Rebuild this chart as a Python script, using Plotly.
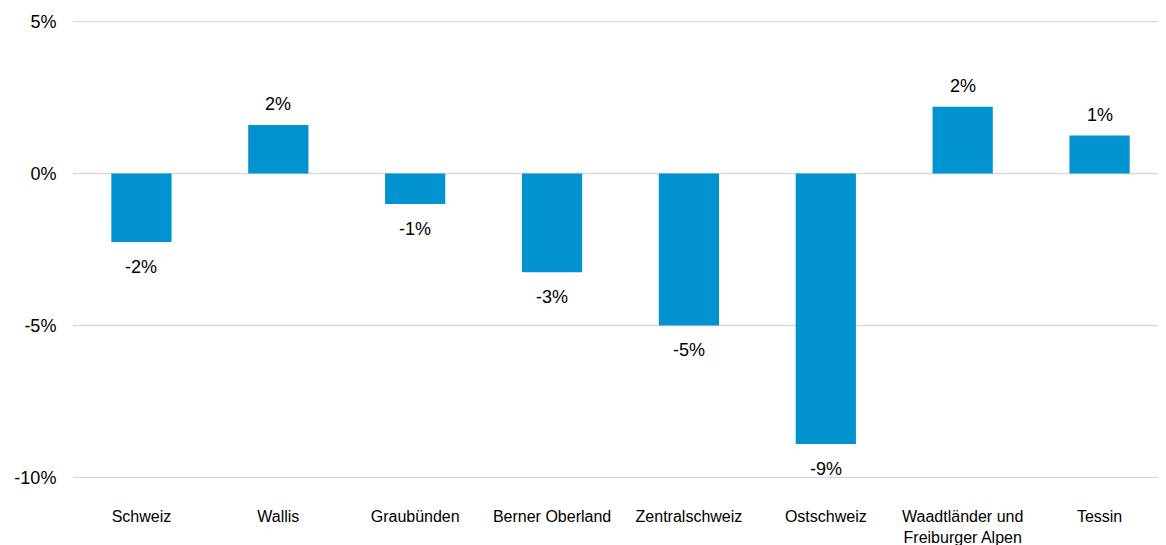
import plotly.graph_objects as go

categories = ["Schweiz", "Wallis", "Graubünden", "Berner Oberland", "Zentralschweiz",
              "Ostschweiz", "Waadtländer und<br>Freiburger Alpen", "Tessin"]
values = [-2.25, 1.6, -1.0, -3.25, -5.0, -8.9, 2.2, 1.25]
labels = ["-2%", "2%", "-1%", "-3%", "-5%", "-9%", "2%", "1%"]
y_ticks = [-10, -5, 0, 5]
y_tick_text = ["-10%", "-5%", "0%", "5%"]

FONT = "Liberation Sans, Arial, sans-serif"
BAR = "#0093D0"

fig = go.Figure(go.Bar(x=categories, y=values, marker=dict(color=BAR, line=dict(width=0)),
                       width=0.44, hoverinfo="skip"))

for c, v, t in zip(categories, values, labels):
    fig.add_annotation(x=c, y=v, text=t, showarrow=False, yanchor="middle",
                       yshift=21 if v >= 0 else -25,
                       font=dict(family=FONT, size=18, color="#000000"))

for yv in y_ticks:
    fig.add_shape(type="line", xref="paper", yref="y", x0=0, x1=1, y0=yv, y1=yv,
                  line=dict(color="#d9d9d9", width=1.5), layer="below")

fig.update_layout(
    width=1160, height=537,
    margin=dict(l=65, r=0, t=13, b=67),
    plot_bgcolor="white", paper_bgcolor="white",
    showlegend=False,
    font=dict(family=FONT, color="#000000"),
    xaxis=dict(showgrid=False, showline=False, zeroline=False, automargin=False,
               ticks="outside", ticklen=24, tickcolor="rgba(0,0,0,0)",
               tickfont=dict(size=16, family=FONT, color="#000000")),
    yaxis=dict(range=[-10.02, 5.02], tickvals=y_ticks, ticktext=y_tick_text, automargin=False,
               showgrid=False, zeroline=False,
               showline=False, ticks="outside", ticklen=12, tickcolor="rgba(0,0,0,0)",
               tickfont=dict(size=18, family=FONT, color="#000000")),
)

fig.write_html("out.html")
